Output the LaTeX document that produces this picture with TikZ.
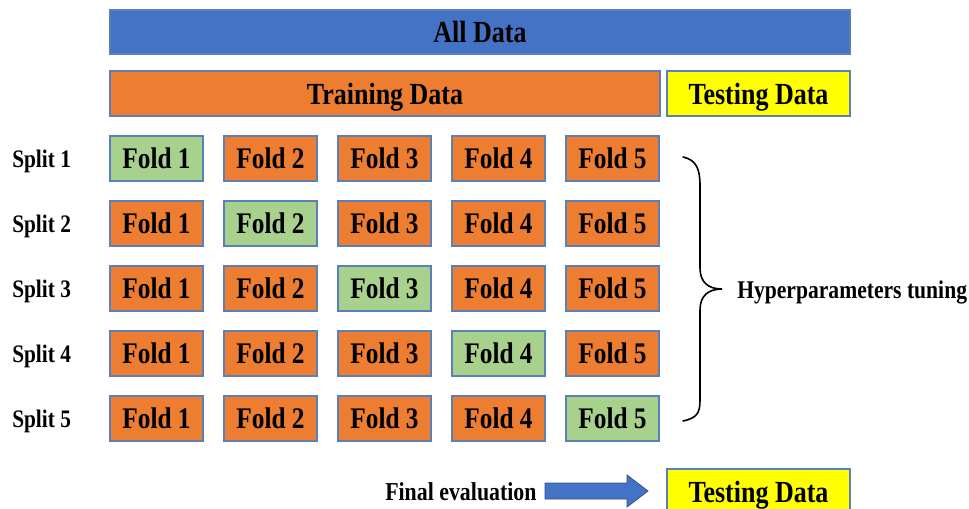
\documentclass[tikz,border=0pt]{standalone}
\usepackage{graphicx}
\usepackage{fontspec}
\setmainfont{Liberation Serif}
\definecolor{cblue}{HTML}{4472C4}
\definecolor{corange}{HTML}{ED7D31}
\definecolor{cgreen}{HTML}{A9D18E}
\definecolor{cyellow}{HTML}{FFFF00}
\definecolor{cborder}{HTML}{5B7FB8}
\definecolor{carrowb}{HTML}{2F528F}
\newcommand{\tallt}[1]{\scalebox{1}[1.18]{#1}}
\begin{document}
\begin{tikzpicture}[x=0.75pt,y=-0.75pt,
  box/.style={draw=cborder, line width=0.8pt, inner sep=0pt, text depth=0pt, font=\bfseries\fontsize{19.5}{20}\selectfont},
  fold/.style={box, minimum width=69.75pt, minimum height=33.75pt, font=\bfseries\fontsize{19}{20}\selectfont},
  trainf/.style={fold, fill=corange},
  testf/.style={fold, fill=cgreen},
  lbl/.style={inner sep=0pt, text depth=0pt, font=\bfseries\fontsize{16}{17}\selectfont}]
\useasboundingbox (0,0) rectangle (969,508);
\clip (0,0) rectangle (969,508);
% top bars
\node[box, fill=cblue, minimum width=555pt, minimum height=33pt] (all) at (480,32) {\tallt{All Data}};
\node[box, fill=corange, minimum width=412.5pt, minimum height=33.75pt] (train) at (385,93.5) {\tallt{Training Data}};
\node[box, fill=cyellow, minimum width=137.25pt, minimum height=33.75pt] (test) at (758.5,93.5) {\tallt{Testing Data}};
% folds
\foreach \j in {1,...,5}{
  \node[lbl, anchor=west] (s\j) at (12,{158.5+65*(\j-1)}) {\tallt{Split \j}};
  \foreach \i in {1,...,5}{
    \ifnum\i=\j
      \node[testf] (f\j\i) at ({156.5+114*(\i-1)},{158.5+65*(\j-1)}) {\tallt{Fold \i}};
    \else
      \node[trainf] (f\j\i) at ({156.5+114*(\i-1)},{158.5+65*(\j-1)}) {\tallt{Fold \i}};
    \fi
  }
}
% brace
\coordinate (bt) at (683,157);
\coordinate (bb) at (683,421);
\coordinate (tip) at (722,289);
\draw[line width=1.2pt, line cap=round]
  (bt) .. controls (697,160) and (700,170) .. (700,186) -- (700,268)
  .. controls (700,282) and (708,289) .. (tip)
  .. controls (708,289) and (700,296) .. (700,310) -- (700,400)
  .. controls (700,413) and (697,418) .. (bb);
\node[lbl, anchor=west, font=\bfseries\fontsize{16.2}{17}\selectfont] (hyp) at (737,290) {\tallt{Hyperparameters tuning}};
% bottom
\node[lbl, anchor=west, font=\bfseries\fontsize{16.4}{17}\selectfont] (fe) at (385,492) {\tallt{Final evaluation}};
\node[box, fill=cyellow, minimum width=137.25pt, minimum height=33.75pt] (test2) at (758.5,491.5) {\tallt{Testing Data}};
\coordinate (a1) at (545,483);
\draw[fill=cblue, draw=carrowb, line width=0.6pt]
  (a1) -- (627,483) -- (627,475) -- (648,491) -- (627,507) -- (627,499) -- (545,499) -- cycle;
\end{tikzpicture}
\end{document}
